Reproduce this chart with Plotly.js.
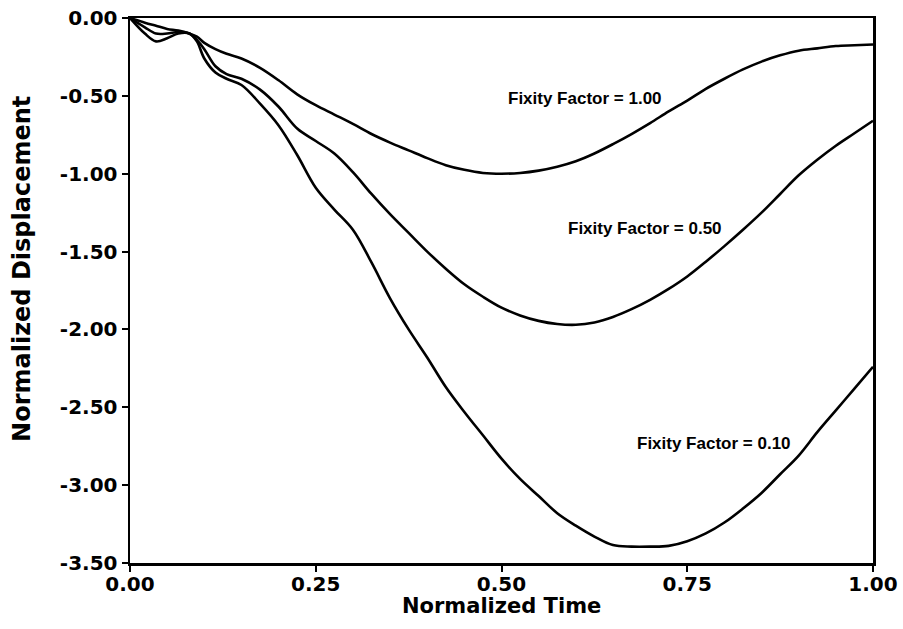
<!DOCTYPE html>
<html>
<head>
<meta charset="utf-8">
<script src="https://cdn.plot.ly/plotly-3.0.1.min.js"></script>
<style>html,body{margin:0;padding:0;background:#fff;}#chart{width:903px;height:629px;}</style>
</head>
<body>
<div id="chart"></div>
<script>
const time = [0, 0.02, 0.035, 0.05, 0.065, 0.08, 0.09, 0.1, 0.115, 0.13, 0.15, 0.175, 0.2, 0.225, 0.25, 0.275, 0.3, 0.325, 0.35, 0.375, 0.4, 0.425, 0.45, 0.475, 0.5, 0.525, 0.55, 0.575, 0.6, 0.625, 0.65, 0.675, 0.7, 0.725, 0.75, 0.775, 0.8, 0.825, 0.85, 0.875, 0.9, 0.925, 0.95, 0.975, 1.0];

const ff100 = [0, -0.03, -0.05, -0.07, -0.08, -0.10, -0.12, -0.16, -0.20, -0.23, -0.26, -0.32, -0.40, -0.49, -0.56, -0.62, -0.68, -0.745, -0.80, -0.85, -0.90, -0.945, -0.975, -0.995, -1.00, -0.995, -0.98, -0.955, -0.92, -0.87, -0.81, -0.745, -0.675, -0.60, -0.53, -0.455, -0.39, -0.33, -0.28, -0.24, -0.21, -0.195, -0.18, -0.175, -0.17];

const ff050 = [0, -0.06, -0.10, -0.10, -0.09, -0.10, -0.14, -0.20, -0.31, -0.36, -0.39, -0.46, -0.57, -0.71, -0.79, -0.87, -0.99, -1.13, -1.26, -1.38, -1.50, -1.61, -1.71, -1.79, -1.86, -1.91, -1.945, -1.965, -1.97, -1.955, -1.92, -1.87, -1.81, -1.74, -1.66, -1.565, -1.465, -1.36, -1.25, -1.13, -1.01, -0.91, -0.82, -0.74, -0.66];

const ff010 = [0, -0.10, -0.15, -0.13, -0.10, -0.10, -0.15, -0.26, -0.35, -0.39, -0.43, -0.55, -0.69, -0.88, -1.09, -1.23, -1.36, -1.57, -1.80, -2.00, -2.18, -2.37, -2.53, -2.68, -2.83, -2.96, -3.07, -3.18, -3.26, -3.33, -3.385, -3.395, -3.395, -3.39, -3.36, -3.31, -3.24, -3.15, -3.05, -2.93, -2.81, -2.66, -2.52, -2.38, -2.24];

const labelText = ["Fixity Factor = 1.00", "Fixity Factor = 0.50", "Fixity Factor = 0.10"];
const labelX = [0.612, 0.693, 0.786];
const labelY = [-0.52, -1.35, -2.73];

const xTitle = "Normalized Time";
const yTitle = "Normalized Displacement";

const xTicks = [0, 0.25, 0.5, 0.75, 1.0];
const xTickText = ["0.00", "0.25", "0.50", "0.75", "1.00"];
const yTicks = [0, -0.5, -1.0, -1.5, -2.0, -2.5, -3.0, -3.5];
const yTickText = ["0.00", "-0.50", "-1.00", "-1.50", "-2.00", "-2.50", "-3.00", "-3.50"];

const lineStyle = {color: '#000', width: 2.6, shape: 'spline', smoothing: 1.0};
const traces = [ff100, ff050, ff010].map((ys, i) => ({
  x: time, y: ys, type: 'scatter', mode: 'lines', line: lineStyle,
  name: labelText[i], showlegend: false, hoverinfo: 'skip'
}));

const titleFont = {family: 'DejaVu Sans, sans-serif', color: '#000', weight: 'bold'};

const annotations = labelText.map((t, i) => ({
  x: labelX[i], y: labelY[i], xref: 'x', yref: 'y', text: t, showarrow: false,
  font: {family: 'Liberation Sans, Arial, sans-serif', size: 17, color: '#000', weight: 'bold'}
})).concat([
  {xref: 'paper', yref: 'paper', x: 0.5, y: -0.078, xanchor: 'center', yanchor: 'middle',
   text: xTitle, showarrow: false, font: Object.assign({size: 21}, titleFont)},
  {xref: 'paper', yref: 'paper', x: -0.1454, y: 0.5395, xanchor: 'center', yanchor: 'middle',
   text: yTitle, textangle: -90, showarrow: false, font: Object.assign({size: 24}, titleFont)}
]);

const axisFont = {family: 'DejaVu Sans, sans-serif', size: 20, color: '#000', weight: 'bold'};

const layout = {
  width: 903, height: 629,
  margin: {l: 130, r: 30, t: 18, b: 66},
  paper_bgcolor: '#fff', plot_bgcolor: '#fff',
  showlegend: false,
  xaxis: {
    range: [0, 1], tickvals: xTicks, ticktext: xTickText,
    ticks: 'outside', ticklen: 6, tickwidth: 2, tickcolor: '#000',
    ticklabelstandoff: -5,
    showline: true, linecolor: '#000', linewidth: 2.5, mirror: true,
    showgrid: false, zeroline: false, automargin: false,
    tickfont: axisFont
  },
  yaxis: {
    range: [-3.5, 0], tickvals: yTicks, ticktext: yTickText,
    ticks: 'outside', ticklen: 6, tickwidth: 2, tickcolor: '#000',
    showline: true, linecolor: '#000', linewidth: 2.5, mirror: true,
    showgrid: false, zeroline: false, automargin: false,
    tickfont: axisFont
  },
  annotations: annotations
};

Plotly.newPlot('chart', traces, layout, {displayModeBar: false, staticPlot: true});
</script>
</body>
</html>
